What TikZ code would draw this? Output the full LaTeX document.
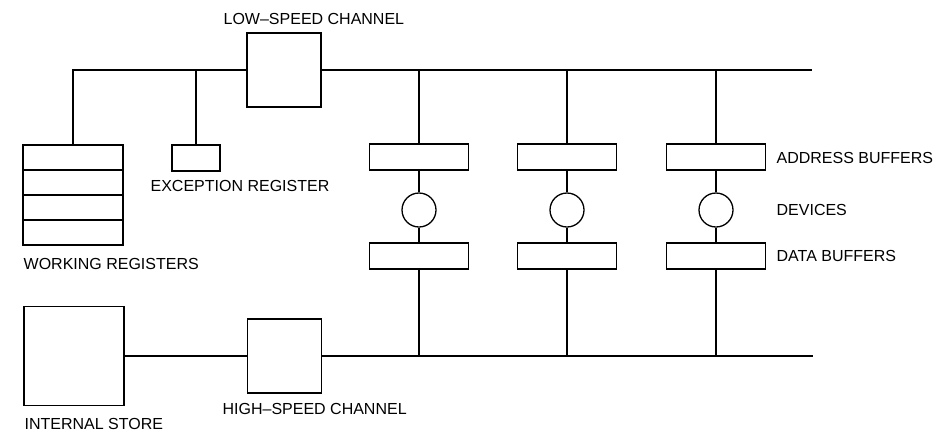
\documentclass[tikz,border=0pt]{standalone}
\usepackage{fontspec}
\setmainfont{Liberation Sans}
\begin{document}
\begin{tikzpicture}[x=1pt,y=-1pt,line width=1.3pt,
  box/.style={draw,rectangle,inner sep=0pt,line width=1.3pt},
  chan/.style={box,minimum width=74pt,minimum height=74pt},
  buf/.style={box,minimum width=99pt,minimum height=26pt},
  cell/.style={box,minimum width=100pt,minimum height=25pt},
  dev/.style={draw,circle,inner sep=0pt,minimum size=34pt,line width=1.3pt},
  lbl/.style={anchor=west,inner sep=0pt,font=\fontsize{16}{18}\selectfont}]
\useasboundingbox (0,0) rectangle (950,432);
% channels and stores
\node[chan] (lsc) at (284,70) {};
\node[chan] (hsc) at (284.5,356) {};
\node[box,minimum width=100pt,minimum height=99pt] (is) at (74,356) {};
\node[box,minimum width=48pt,minimum height=26pt] (ex) at (196,158) {};
\node[cell] (wr1) at (73,157.5) {};
\node[cell] (wr2) at (73,182.5) {};
\node[cell] (wr3) at (73,207.5) {};
\node[cell] (wr4) at (73,232.5) {};
% buffers and devices
\foreach \i/\x in {1/419,2/567,3/716}{
  \node[buf] (ab\i) at (\x,157) {};
  \node[dev] (d\i) at (\x,210) {};
  \node[buf] (db\i) at (\x,256) {};
  \coordinate (t\i) at (\x,70);
  \coordinate (b\i) at (\x,356);
}
\coordinate (tl) at (73,70);
\coordinate (tx) at (196,70);
\coordinate (tr) at (812,70);
\coordinate (br) at (813,356);
% buses
\draw (wr1.north) -- (tl) -- (lsc.west);
\draw (lsc.east) -- (tr);
\draw (tx) -- (ex.north);
\draw (is.east) -- (hsc.west);
\draw (hsc.east) -- (br);
\foreach \i in {1,2,3}{
  \draw (t\i) -- (ab\i.north);
  \draw (ab\i.south) -- (d\i.north);
  \draw (d\i.south) -- (db\i.north);
  \draw (db\i.south) -- (b\i);
}
% labels
\node[lbl] (llsc) at (223,18.5) {LOW–SPEED CHANNEL};
\node[lbl] (lex) at (150,186) {EXCEPTION REGISTER};
\node[lbl] (lab) at (776,158) {ADDRESS BUFFERS};
\node[lbl] (ldev) at (776,210) {DEVICES};
\node[lbl] (ldb) at (776,256) {DATA BUFFERS};
\node[lbl] (lwr) at (23,264) {WORKING REGISTERS};
\node[lbl] (lhsc) at (222,409) {HIGH–SPEED CHANNEL};
\node[lbl] (lis) at (24,423.5) {INTERNAL STORE};
\end{tikzpicture}
\end{document}
